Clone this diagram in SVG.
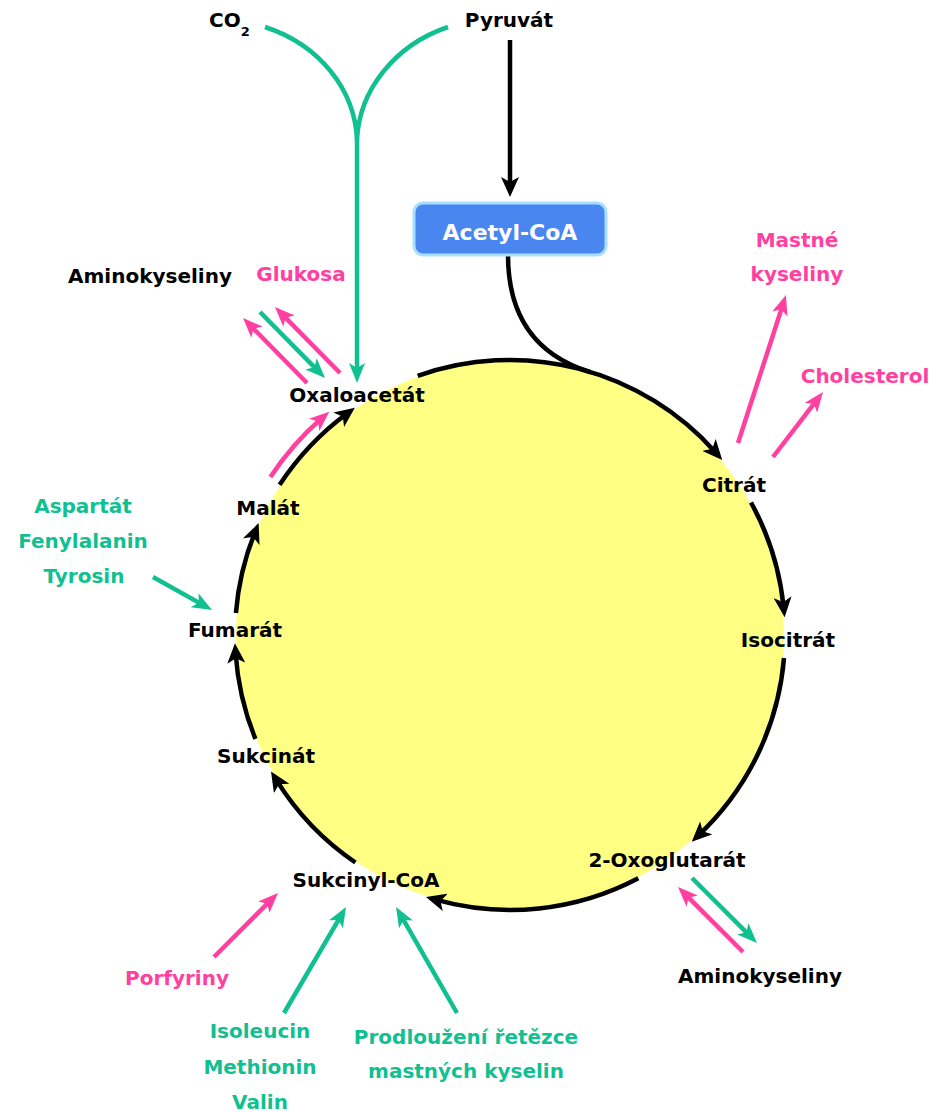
<svg xmlns="http://www.w3.org/2000/svg" width="936" height="1112" viewBox="0 0 936 1112">
<style>
text{font-family:"DejaVu Sans","Liberation Sans",sans-serif;font-weight:bold;font-size:20px;text-anchor:middle}
.k{fill:#000}
.p{fill:#FF40A0}
.g{fill:#10C090}
.w{fill:#fff;font-size:22px}
.bl{fill:none;stroke:#000;stroke-width:4.5;marker-end:url(#ab)}
.pl{fill:none;stroke:#FF40A0;stroke-width:4.5;marker-end:url(#ap)}
.gl{fill:none;stroke:#10C090;stroke-width:4.5;marker-end:url(#ag)}
</style>
<defs>
<marker id="ab" viewBox="0 0 20 18" markerWidth="20" markerHeight="18" refX="10" refY="9" orient="auto" markerUnits="userSpaceOnUse"><path d="M0,0 L20,9 L0,18 L5,9 z" fill="#000"/></marker>
<marker id="ap" viewBox="0 0 20 16" markerWidth="20" markerHeight="16" refX="10" refY="8" orient="auto" markerUnits="userSpaceOnUse"><path d="M0,0 L20,8 L0,16 L5,8 z" fill="#FF40A0"/></marker>
<marker id="ag" viewBox="0 0 20 16" markerWidth="20" markerHeight="16" refX="10" refY="8" orient="auto" markerUnits="userSpaceOnUse"><path d="M0,0 L20,8 L0,16 L5,8 z" fill="#10C090"/></marker>
</defs>
<circle id="cycle" cx="510" cy="635" r="274" fill="#FFFF84"/>
<g id="connectors">
<path class="bl" d="M417.7,375.9 A275,275 0 0 1 715.6,452.4"/>
<path fill="none" stroke="#000" stroke-width="4.5" d="M508,255 C508,315 535,355 590,372"/>
<path class="bl" d="M751,502.5 A275,275 0 0 1 783.6,607.2"/>
<path class="bl" d="M784,658 A275,275 0 0 1 699,834.8"/>
<path class="bl" d="M638.3,878.3 A275,275 0 0 1 435.6,899.7"/>
<path class="bl" d="M355.4,862.5 A275,275 0 0 1 276.3,779.9"/>
<path class="bl" d="M255.4,738.9 A275,275 0 0 1 235.6,653.2"/>
<path class="bl" d="M235.9,613 A275,275 0 0 1 254.9,532.4"/>
<path class="bl" d="M279.6,484.8 A275,275 0 0 1 346.8,413.7"/>
<path class="bl" d="M510,40 L510,187"/>
<path class="gl" d="M265,27 C320,45 355,90 357,140 L357,373"/>
<path fill="none" stroke="#10C090" stroke-width="4.5" d="M448,27 C395,45 359,90 357,140"/>
<path class="pl" d="M307,383 L250,325.1"/>
<path class="gl" d="M260,312 L318,370.9"/>
<path class="pl" d="M340,373 L282,314.1"/>
<path class="pl" d="M270.4,477.1 A287,287 0 0 1 321.7,418.3"/>
<path class="pl" d="M738,443 L782.9,304.5"/>
<path class="pl" d="M773,457 L816.9,399.9"/>
<path class="gl" d="M692,878 L749.9,935.9"/>
<path class="pl" d="M743,952 L685.1,894.1"/>
<path class="pl" d="M214,957 L270.9,900.1"/>
<path class="gl" d="M284,1013 L341,915.6"/>
<path class="gl" d="M457,1013 L401,915.7"/>
<path class="gl" d="M153,577 L203.3,605.1"/>
</g>
<g id="co2"><text class="k" x="209" y="27" style="text-anchor:start">CO<tspan font-size="13" dy="9">2</tspan></text></g>
<g id="pyruvat"><text class="k" x="509" y="27">Pyruvát</text></g>
<g id="acetylcoa"><rect x="414" y="203" width="192" height="52" rx="9" fill="#4A86F0" stroke="#A8DEFF" stroke-width="3"/><text class="w" x="510" y="240">Acetyl-CoA</text></g>
<g id="aminokyseliny1"><text class="k" x="150" y="283">Aminokyseliny</text></g>
<g id="glukosa"><text class="p" x="301" y="281">Glukosa</text></g>
<g id="oxaloacetat"><text class="k" x="357" y="402">Oxaloacetát</text></g>
<g id="mastne"><text class="p" x="797" y="247">Mastné</text><text class="p" x="797" y="281">kyseliny</text></g>
<g id="cholesterol"><text class="p" x="865" y="383">Cholesterol</text></g>
<g id="citrat"><text class="k" x="734" y="492">Citrát</text></g>
<g id="isocitrat"><text class="k" x="788" y="647">Isocitrát</text></g>
<g id="oxoglutarat"><text class="k" x="667" y="867">2-Oxoglutarát</text></g>
<g id="aminokyseliny2"><text class="k" x="760" y="983">Aminokyseliny</text></g>
<g id="sukcinylcoa"><text class="k" x="366" y="887">Sukcinyl-CoA</text></g>
<g id="porfyriny"><text class="p" x="177" y="985">Porfyriny</text></g>
<g id="aminoacids"><text class="g" x="260" y="1038">Isoleucin</text><text class="g" x="260" y="1074">Methionin</text><text class="g" x="260" y="1109">Valin</text></g>
<g id="prodlouzeni"><text class="g" x="466" y="1044">Prodloužení řetězce</text><text class="g" x="466" y="1078">mastných kyselin</text></g>
<g id="sukcinat"><text class="k" x="266" y="763">Sukcinát</text></g>
<g id="fumarat"><text class="k" x="235" y="637">Fumarát</text></g>
<g id="malat"><text class="k" x="268" y="515">Malát</text></g>
<g id="aspartat"><text class="g" x="83" y="513">Aspartát</text><text class="g" x="83" y="548">Fenylalanin</text><text class="g" x="84" y="583">Tyrosin</text></g>
</svg>
